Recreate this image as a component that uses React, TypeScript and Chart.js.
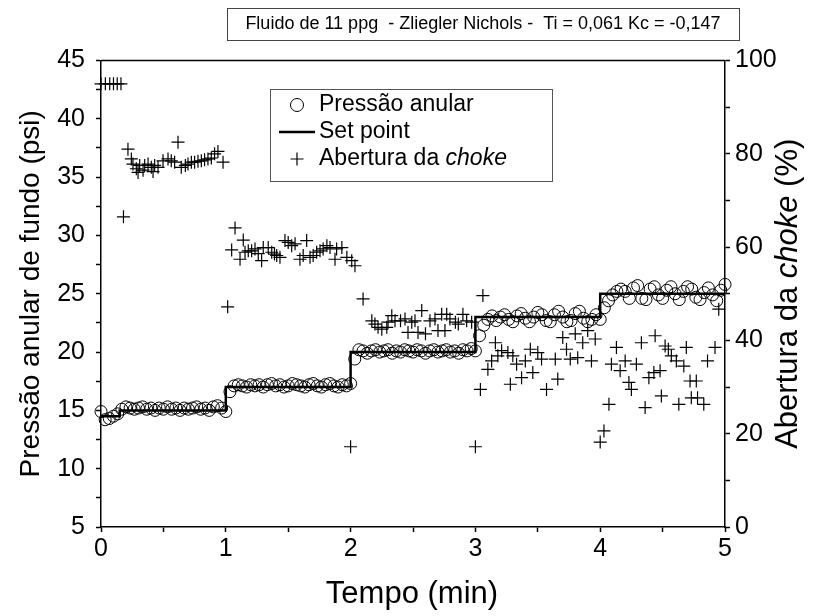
import React, { useEffect, useRef } from 'react';
import { Chart, registerables } from 'chart.js';

Chart.register(...registerables);

// ---- data ----
const SAMPLE_STEP_MIN = 1 / 30; // pressure sampled every 2 s

const pressurePsi = [
  14.9, 14.2, 14.3, 14.5, 14.7, 15.1, 15.3, 15.2, 15.1, 15.2, 15.3, 15.1, 15.2, 15.0, 15.2, 15.1, 15.3, 15.1, 15.2, 15.0, 15.2, 15.1, 15.2, 15.3, 15.1, 15.2, 15.0, 15.3, 15.4, 15.2,
  14.9, 16.6, 17.1, 17.2, 17.1, 17.0, 17.2, 17.1, 17.2, 17.0, 17.2, 17.3, 17.1, 17.2, 17.0, 17.1, 17.3, 17.2, 17.1, 17.0, 17.2, 17.3, 17.1, 17.0, 17.2, 17.3, 17.1, 17.0, 17.2, 17.1,
  17.3, 19.4, 20.2, 20.1, 19.9, 20.1, 20.2, 20.0, 20.1, 20.2, 19.9, 20.1, 20.0, 20.2, 20.1, 20.0, 20.2, 20.1, 19.9, 20.1, 20.2, 20.0, 20.1, 20.2, 20.0, 20.1, 19.9, 20.2, 20.1, 20.3,
  20.1, 21.4, 22.3, 22.8, 23.1, 22.7, 23.0, 23.2, 22.8, 22.6, 23.1, 23.3, 22.9, 22.6, 23.0, 23.4, 23.2, 22.7, 22.6, 23.2, 23.5, 23.0, 22.6, 22.7, 23.3, 23.5, 22.9, 22.6, 22.8, 23.2,
  22.8, 23.8, 24.4, 24.9, 25.2, 25.4, 25.2, 24.6, 25.5, 25.7, 24.6, 24.5, 25.4, 25.6, 24.9, 24.6, 25.3, 25.6, 25.0, 24.5, 25.2, 25.6, 25.4, 24.7, 24.5, 25.1, 25.5, 24.9, 24.4, 25.3, 25.8,
];

const setPointTime = [0, 0.15, 1, 2, 3, 4, 5];
const setPointPsi = [14.5, 15, 17, 20, 23, 25, 25];

const chokeTime = [
  0.0, 0.035, 0.07, 0.1, 0.13, 0.16, 0.18, 0.216, 0.243, 0.256, 0.283, 0.297, 0.31, 0.337, 0.35, 0.377, 0.403, 0.417, 0.43, 0.457,
  0.497, 0.537, 0.563, 0.59, 0.617, 0.643, 0.676, 0.697, 0.724, 0.75, 0.777, 0.804, 0.83, 0.857, 0.884, 0.91, 0.937, 0.978,
  1.015, 1.047, 1.074, 1.114, 1.14, 1.154, 1.18, 1.207, 1.234, 1.26, 1.287, 1.3, 1.34, 1.368, 1.39, 1.408, 1.434, 1.474, 1.5,
  1.528, 1.555, 1.594, 1.62, 1.648, 1.675, 1.7, 1.728, 1.755, 1.78, 1.81, 1.835, 1.875, 1.888, 1.93, 1.97, 2.0, 2.009, 2.035,
  2.1, 2.17, 2.195, 2.22, 2.25, 2.29, 2.3, 2.33, 2.356, 2.4, 2.436, 2.46, 2.49, 2.516, 2.54, 2.57, 2.6, 2.636, 2.676, 2.7,
  2.73, 2.756, 2.77, 2.796, 2.84, 2.863, 2.9, 2.93, 2.97,
  3.0, 3.04, 3.06, 3.1, 3.13, 3.16, 3.18, 3.21, 3.26, 3.28, 3.3, 3.33, 3.37, 3.4, 3.44, 3.46, 3.5, 3.53, 3.57, 3.64, 3.66,
  3.7, 3.73, 3.76, 3.8, 3.82, 3.86, 3.9, 3.93, 3.96,
  4.0, 4.03, 4.07, 4.09, 4.13, 4.16, 4.2, 4.23, 4.25, 4.29, 4.33, 4.36, 4.39, 4.43, 4.44, 4.48, 4.49, 4.52, 4.546, 4.57,
  4.61, 4.63, 4.67, 4.69, 4.72, 4.73, 4.77, 4.78, 4.83, 4.86, 4.92, 4.95,
];

const chokePct = [
  95, 95, 95, 95, 95, 95, 66.5, 81.0, 78.9, 77.8, 76.8, 76.0, 77.5, 76.5, 77.5, 77.8, 77.1, 76.2, 77.5, 77.1,
  78.5, 78.9, 78.5, 78.2, 82.5, 77.1, 77.5, 77.8, 78.2, 78.2, 78.4, 78.5, 78.7, 78.9, 79.1, 80.0, 80.5, 78.2,
  47.2, 59.4, 64.1, 57.4, 61.5, 58.9, 59.2, 59.2, 59.6, 58.6, 57.1, 59.9, 59.9, 58.9, 58.5, 58.2, 57.8, 61.4, 61.0,
  60.3, 60.7, 57.4, 58.2, 61.4, 57.8, 58.2, 58.9, 59.2, 59.6, 60.3, 59.9, 57.4, 59.6, 59.9, 57.8, 17.2, 57.1, 56.0,
  48.9, 44.2, 43.5, 42.8, 42.4, 42.8, 43.9, 45.3, 44.2, 44.2, 44.6, 41.7, 43.9, 44.2, 41.7, 46.4, 41.4, 44.2, 44.6, 42.1,
  45.6, 42.1, 45.6, 44.6, 43.9, 43.5, 45.6, 44.2, 43.9,
  17.2, 29.5, 49.6, 33.8, 35.6, 39.5, 36.7, 37.8, 37.4, 30.6, 36.7, 34.9, 32.0, 35.6, 38.1, 33.1, 37.4, 36.0, 29.5, 36.0, 31.7,
  40.6, 38.1, 36.0, 41.4, 36.3, 39.5, 42.1, 35.6, 40.3,
  18.2, 20.6, 26.3, 34.9, 38.5, 33.5, 35.6, 31.0, 29.5, 34.9, 39.5, 25.6, 32.0, 33.1, 41.0, 33.5, 28.1, 38.8, 38.1, 36.7,
  35.6, 26.3, 34.5, 38.5, 31.3, 27.7, 31.3, 27.7, 26.3, 35.6, 38.5, 46.7,
];

const TITLE = 'Fluido de 11 ppg  - Zliegler Nichols -  Ti = 0,061 Kc = -0,147';
const LEFT_TITLE = 'Pressão anular de fundo (psi)';
const RIGHT_TITLE = [['Abertura da ', false], ['choke', true], [' (%)', false]] as [string, boolean][];
const X_TITLE = 'Tempo (min)';
const LEGEND_ITEMS = [
  [['Pressão anular', false]],
  [['Set point', false]],
  [['Abertura da ', false], ['choke', true]],
] as [string, boolean][][];

const FONT = '"Liberation Sans", Arial, Helvetica, sans-serif';

// ---- layout ----
const W = 816;
const H = 616;
const AREA = { left: 101, right: 725, top: 60.5, bottom: 527 };

function drawParts(ctx: CanvasRenderingContext2D, parts: [string, boolean][], size: number, x: number, y: number, align: 'left' | 'center') {
  const widths = parts.map(([t, it]) => {
    ctx.font = `${it ? 'italic ' : ''}${size}px ${FONT}`;
    return ctx.measureText(t).width;
  });
  const total = widths.reduce((a, b) => a + b, 0);
  let cx = align === 'center' ? x - total / 2 : x;
  ctx.textAlign = 'left';
  ctx.textBaseline = 'middle';
  parts.forEach(([t, it], i) => {
    ctx.font = `${it ? 'italic ' : ''}${size}px ${FONT}`;
    ctx.fillText(t, cx, y);
    cx += widths[i];
  });
}

const decorPlugin = {
  id: 'decor',
  afterDraw(chart: any) {
    const ctx: CanvasRenderingContext2D = chart.ctx;
    const ca = chart.chartArea;
    ctx.save();
    ctx.fillStyle = '#000';
    ctx.strokeStyle = '#000';
    // top frame line
    ctx.lineWidth = 1.5;
    ctx.beginPath();
    ctx.moveTo(ca.left, ca.top);
    ctx.lineTo(ca.right, ca.top);
    ctx.stroke();

    // title box
    ctx.lineWidth = 1;
    ctx.strokeStyle = '#444';
    ctx.strokeRect(227.5, 8.5, 512, 32);
    ctx.fillStyle = '#000';
    drawParts(ctx, [[TITLE, false]], 18, 483, 24.5, 'center');

    // legend
    ctx.strokeStyle = '#555';
    ctx.strokeRect(270.5, 89.5, 282, 92);
    const rows = [105, 132, 159];
    const sx = 297;
    // circle
    ctx.strokeStyle = '#000';
    ctx.lineWidth = 1;
    ctx.beginPath();
    ctx.arc(sx, rows[0], 6.5, 0, Math.PI * 2);
    ctx.stroke();
    // line
    ctx.lineWidth = 2.5;
    ctx.beginPath();
    ctx.moveTo(279, rows[1]);
    ctx.lineTo(315, rows[1]);
    ctx.stroke();
    // plus
    ctx.lineWidth = 1.2;
    ctx.beginPath();
    ctx.moveTo(sx - 6.5, rows[2]);
    ctx.lineTo(sx + 6.5, rows[2]);
    ctx.moveTo(sx, rows[2] - 6.5);
    ctx.lineTo(sx, rows[2] + 6.5);
    ctx.stroke();
    LEGEND_ITEMS.forEach((parts, i) => drawParts(ctx, parts, 23, 319, rows[i], 'left'));

    // axis titles
    ctx.save();
    ctx.translate(31, (ca.top + ca.bottom) / 2);
    ctx.rotate(-Math.PI / 2);
    drawParts(ctx, [[LEFT_TITLE, false]], 28, 0, 0, 'center');
    ctx.restore();

    ctx.save();
    ctx.translate(788, (ca.top + ca.bottom) / 2);
    ctx.rotate(-Math.PI / 2);
    drawParts(ctx, RIGHT_TITLE, 31, 0, 0, 'center');
    ctx.restore();

    drawParts(ctx, [[X_TITLE, false]], 31, 412, 594, 'center');
    ctx.restore();
  },
};

export default function App() {
  const ref = useRef<HTMLCanvasElement | null>(null);

  useEffect(() => {
    if (!ref.current) return;
    const pressureData = pressurePsi.map((v, i) => ({ x: i * SAMPLE_STEP_MIN, y: v }));
    const setData = setPointTime.map((t, i) => ({ x: t, y: setPointPsi[i] }));
    const chokeData = chokeTime.map((t, i) => ({ x: t, y: chokePct[i] }));

    const tickFont = { family: FONT, size: 25 };
    const gridCommon = {
      display: true,
      drawOnChartArea: false,
      drawTicks: true,
      tickLength: 5,
      tickWidth: 1.5,
      tickColor: '#000',
      color: '#000',
    };

    const chart = new Chart(ref.current, {
      type: 'scatter',
      data: {
        datasets: [
          {
            label: 'Set point',
            data: setData,
            yAxisID: 'y',
            showLine: true,
            stepped: true,
            borderColor: '#000',
            borderWidth: 2.5,
            pointRadius: 0,
            order: 0,
          },
          {
            label: 'Pressão anular',
            data: pressureData,
            yAxisID: 'y',
            showLine: false,
            pointStyle: 'circle',
            pointRadius: 6,
            pointBorderWidth: 1,
            pointBorderColor: '#000',
            pointBackgroundColor: 'rgba(0,0,0,0)',
            clip: false,
            order: 1,
          },
          {
            label: 'Abertura da choke',
            data: chokeData,
            yAxisID: 'y1',
            showLine: false,
            pointStyle: 'cross',
            pointRadius: 6.5,
            pointBorderWidth: 1.2,
            pointBorderColor: '#000',
            pointBackgroundColor: '#000',
            clip: false,
            order: 2,
          },
        ] as any,
      },
      options: {
        animation: false,
        responsive: true,
        maintainAspectRatio: false,
        layout: { padding: { top: AREA.top, left: 0, right: 0, bottom: 0 } },
        plugins: { legend: { display: false }, tooltip: { enabled: false }, title: { display: false } },
        scales: {
          x: {
            type: 'linear',
            min: 0,
            max: 5,
            grid: gridCommon,
            border: { display: true, color: '#000', width: 1.5 },
            ticks: {
              stepSize: 0.5,
              color: '#000',
              font: tickFont,
              padding: 2,
              maxRotation: 0,
              autoSkip: false,
              callback: (v: any) => (Math.abs(v - Math.round(v)) < 1e-6 ? String(Math.round(v)) : ''),
            },
            afterFit: (s: any) => { s.height = H - AREA.bottom; },
          },
          y: {
            type: 'linear',
            position: 'left',
            min: 5,
            max: 45,
            grid: gridCommon,
            border: { display: true, color: '#000', width: 1.5 },
            ticks: {
              stepSize: 2.5,
              color: '#000',
              font: tickFont,
              padding: 11,
              autoSkip: false,
              callback: (v: any) => (Math.abs(v % 5) < 1e-6 ? String(v) : ''),
            },
            afterFit: (s: any) => { s.width = AREA.left; },
          },
          y1: {
            type: 'linear',
            position: 'right',
            min: 0,
            max: 100,
            grid: gridCommon,
            border: { display: true, color: '#000', width: 1.5 },
            ticks: {
              stepSize: 10,
              color: '#000',
              font: tickFont,
              padding: 5,
              autoSkip: false,
              callback: (v: any) => (Math.abs(v % 20) < 1e-6 ? String(v) : ''),
            },
            afterFit: (s: any) => { s.width = W - AREA.right; },
          },
        },
      } as any,
      plugins: [decorPlugin],
    });
    return () => chart.destroy();
  }, []);

  return (
    <div style={{ position: 'absolute', left: 0, top: 0, width: W, height: H, background: '#fff' }}>
      <canvas ref={ref} />
    </div>
  );
}
